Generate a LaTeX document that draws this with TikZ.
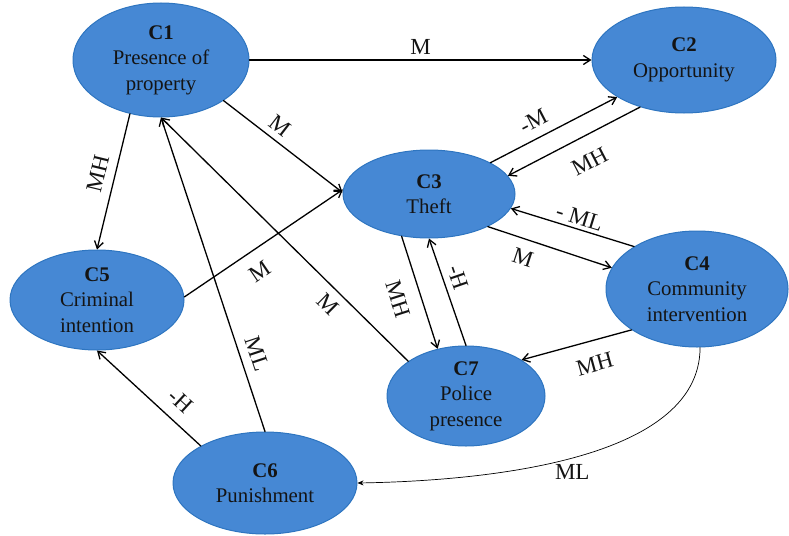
\documentclass[tikz,border=0pt]{standalone}
\usepackage{fontspec}
\setmainfont{Liberation Serif}
\usetikzlibrary{shapes.geometric,arrows.meta}

\definecolor{cfill}{RGB}{70,136,212}
\definecolor{cline}{RGB}{46,117,192}
\definecolor{ctext}{RGB}{20,20,20}

\tikzset{
  factor/.style={ellipse, draw=cline, line width=1pt, fill=cfill, inner sep=0pt,
    align=center, text=ctext, font=\fontsize{20.8}{25.5}\selectfont},
  link/.style={-{Straight Barb[length=7pt,width=9pt]}, line width=1.3pt},
  weight/.style={font=\fontsize{23}{26}\selectfont, inner sep=0pt, text=ctext},
}

\begin{document}
\begin{tikzpicture}[line cap=round,line join=round,x=1pt,y=-1pt]
\useasboundingbox (0,0) rectangle (789,535);

% Concepts
\node[factor, minimum width=176pt, minimum height=114pt] (c1) at (161,60) {\textbf{C1}\\Presence of\\property};
\node[factor, minimum width=184pt, minimum height=106pt] (c2) at (684,60) {\textbf{C2}\\Opportunity};
\node[factor, minimum width=172pt, minimum height=88pt] (c3) at (429,194) {\textbf{C3}\\Theft};
\node[factor, minimum width=182pt, minimum height=116pt] (c4) at (697,289) {\textbf{C4}\\Community\\intervention};
\node[factor, minimum width=174pt, minimum height=100pt] (c5) at (97,300) {\textbf{C5}\\Criminal\\intention};
\node[factor, minimum width=184pt, minimum height=102pt] (c6) at (265,483) {\textbf{C6}\\Punishment};
\node[factor, minimum width=158pt, minimum height=100pt] (c7) at (466,396) {\textbf{C7}\\Police\\presence};

% Links
\draw [link] (c1.east) -- node[weight, above=5pt] {M} (c2.west);
\draw [link] (c1.-33) -- node[weight, sloped, above=6pt, pos=0.4] {M} (c3.179);
\draw [link] (c1.-120) -- node[weight, sloped, above=9pt, pos=0.47] {MH} (c5.north);
\draw [link] (c3.27) -- node[weight, sloped, above=9pt, pos=0.4] {-M} (c2.-151);
\draw [link] (c2.-133) -- node[weight, sloped, below=17pt, pos=0.47] {MH} (c3.13);
\draw [link] (c4.146) -- node[weight, sloped, above=4pt, pos=0.47] {- ML} (c3.-10);
\draw [link] (c3.-29) -- node[weight, sloped, below=10pt, pos=0.33] {M} (c4.166);
\draw [link] (c3.-123) -- node[weight, sloped, below=14pt, pos=0.5] {MH} (c7.121);
\draw [link] (c7.north) -- node[weight, sloped, above=7pt, pos=0.59] {-H} (c3.south);
\draw [link] (c4.-148) -- node[weight, sloped, below=15pt, pos=0.39] {MH} (c7.33);
\draw [link] (c5.2) -- node[weight, sloped, below=13pt, pos=0.4] {M} (c3.177);
\draw [link] (c7.149) -- node[weight, sloped, below=8pt, pos=0.28] {M} (c1.south);
\draw [link] (c6.north) -- node[weight, sloped, above=9pt, pos=0.23] {ML} (c1.south);
\draw [link] (c6.150) -- node[weight, sloped, above=11pt, pos=0.32] {-H} (c5.south);

%% curved link
\draw [-{Stealth[length=6pt,width=5pt]}, line width=0.7pt] (c4.-87) .. controls +(0,116) and +(116,-2) .. node[weight, below=6pt, pos=0.5] {ML} (c6.east);
\end{tikzpicture}
\end{document}
